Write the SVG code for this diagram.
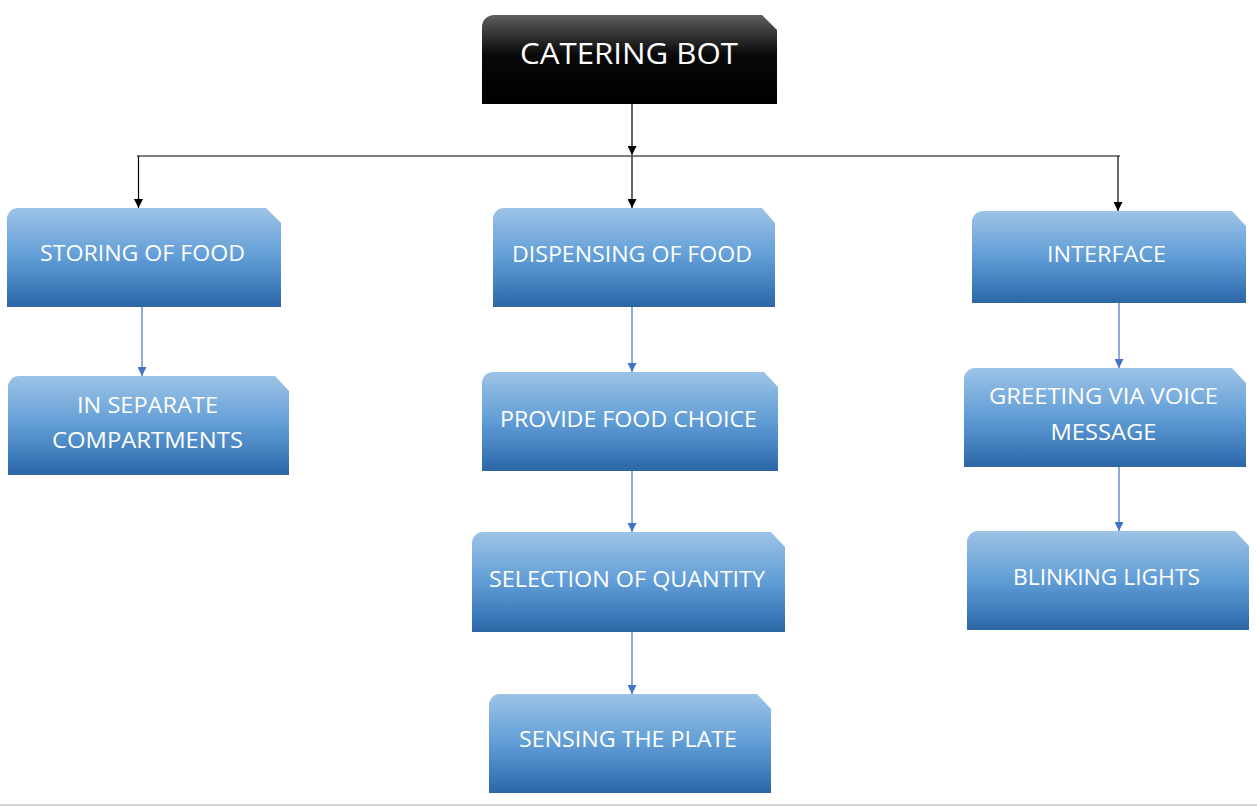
<svg xmlns="http://www.w3.org/2000/svg" width="1257" height="807" viewBox="0 0 1257 807">
<defs>
<linearGradient id="gBlue" x1="0" y1="0" x2="0" y2="1">
<stop offset="0" stop-color="#9dc3e6"/>
<stop offset="0.5" stop-color="#609dd6"/>
<stop offset="0.9" stop-color="#3572b3"/>
<stop offset="1" stop-color="#2c65a3"/>
</linearGradient>
<linearGradient id="gBlack" x1="0" y1="0" x2="0" y2="1">
<stop offset="0" stop-color="#5e5e5e"/>
<stop offset="0.45" stop-color="#080808"/>
<stop offset="1" stop-color="#000"/>
</linearGradient>
<marker id="aBlack" viewBox="0 0 10 10" refX="10" refY="5" markerWidth="9" markerHeight="9" markerUnits="userSpaceOnUse" orient="auto">
<path d="M0,0 L10,5 L0,10 Z" fill="#000"/>
</marker>
<marker id="aBlue" viewBox="0 0 10 10" refX="10" refY="5" markerWidth="9" markerHeight="9" markerUnits="userSpaceOnUse" orient="auto">
<path d="M0,0 L10,5 L0,10 Z" fill="#4472c4"/>
</marker>
</defs>
<style>
.box{fill:url(#gBlue);}
.top{fill:url(#gBlack);}
.t{font-family:"Open Sans","Liberation Sans",sans-serif;font-size:21.5px;fill:#fff;text-anchor:middle;}
.tt{font-family:"Open Sans","Liberation Sans",sans-serif;font-size:29px;fill:#fff;text-anchor:middle;}
.cb{stroke:#000;stroke-width:1.2;fill:none;}
.cu{stroke:#4472c4;stroke-width:1.2;fill:none;}
</style>
<rect width="1257" height="807" fill="#fff"/>
<line x1="0" y1="805" x2="1257" y2="805" stroke="#c8c8c8" stroke-width="1.5"/>

<g id="connectors">
<line class="cb" x1="632" y1="104" x2="632" y2="155" marker-end="url(#aBlack)"/>
<line class="cb" x1="137" y1="156" x2="1120" y2="156"/>
<line class="cb" x1="632" y1="156" x2="632" y2="208" marker-end="url(#aBlack)"/>
<line class="cb" x1="138.5" y1="156" x2="138.5" y2="208" marker-end="url(#aBlack)"/>
<line class="cb" x1="1118" y1="156" x2="1118" y2="211" marker-end="url(#aBlack)"/>
<line class="cu" x1="142" y1="307" x2="142" y2="376" marker-end="url(#aBlue)"/>
<line class="cu" x1="632" y1="307" x2="632" y2="372" marker-end="url(#aBlue)"/>
<line class="cu" x1="632" y1="471" x2="632" y2="532" marker-end="url(#aBlue)"/>
<line class="cu" x1="632" y1="632" x2="632" y2="694" marker-end="url(#aBlue)"/>
<line class="cu" x1="1119" y1="303" x2="1119" y2="368" marker-end="url(#aBlue)"/>
<line class="cu" x1="1119" y1="467" x2="1119" y2="531" marker-end="url(#aBlue)"/>
</g>

<g id="catering-bot">
<path class="top" d="M482,27 A12,12 0 0 1 494,15 H762 L777,30 V104 H482 Z"/>
<text class="tt" x="629" y="64" textLength="218" lengthAdjust="spacingAndGlyphs">CATERING BOT</text>
</g>

<g id="storing-of-food">
<path class="box" d="M7,219 A11,11 0 0 1 18,208 H266 L281,223 V307 H7 Z"/>
<text class="t" x="142.5" y="261" textLength="205" lengthAdjust="spacingAndGlyphs">STORING OF FOOD</text>
</g>

<g id="in-separate-compartments">
<path class="box" d="M8,387 A11,11 0 0 1 19,376 H275 L289,391 V475 H8 Z"/>
<text class="t" x="147.5" y="413" textLength="141" lengthAdjust="spacingAndGlyphs">IN SEPARATE</text>
<text class="t" x="147.5" y="448" textLength="191" lengthAdjust="spacingAndGlyphs">COMPARTMENTS</text>
</g>

<g id="dispensing-of-food">
<path class="box" d="M493,219 A11,11 0 0 1 504,208 H762 L775,223 V307 H493 Z"/>
<text class="t" x="632" y="262" textLength="240" lengthAdjust="spacingAndGlyphs">DISPENSING OF FOOD</text>
</g>

<g id="provide-food-choice">
<path class="box" d="M482,383 A11,11 0 0 1 493,372 H764 L778,387 V471 H482 Z"/>
<text class="t" x="628.5" y="427" textLength="257" lengthAdjust="spacingAndGlyphs">PROVIDE FOOD CHOICE</text>
</g>

<g id="selection-of-quantity">
<path class="box" d="M472,543 A11,11 0 0 1 483,532 H771 L785,547 V632 H472 Z"/>
<text class="t" x="627" y="587" textLength="276" lengthAdjust="spacingAndGlyphs">SELECTION OF QUANTITY</text>
</g>

<g id="sensing-the-plate">
<path class="box" d="M489,705 A11,11 0 0 1 500,694 H757 L771,709 V793 H489 Z"/>
<text class="t" x="628" y="747" textLength="218" lengthAdjust="spacingAndGlyphs">SENSING THE PLATE</text>
</g>

<g id="interface">
<path class="box" d="M972,222 A11,11 0 0 1 983,211 H1232 L1246,226 V303 H972 Z"/>
<text class="t" x="1106.5" y="262" textLength="119" lengthAdjust="spacingAndGlyphs">INTERFACE</text>
</g>

<g id="greeting-via-voice-message">
<path class="box" d="M964,379 A11,11 0 0 1 975,368 H1232 L1246,383 V467 H964 Z"/>
<text class="t" x="1103.5" y="404" textLength="229" lengthAdjust="spacingAndGlyphs">GREETING VIA VOICE</text>
<text class="t" x="1103.5" y="440" textLength="106" lengthAdjust="spacingAndGlyphs">MESSAGE</text>
</g>

<g id="blinking-lights">
<path class="box" d="M967,542 A11,11 0 0 1 978,531 H1235 L1249,546 V630 H967 Z"/>
<text class="t" x="1106.5" y="585" textLength="187" lengthAdjust="spacingAndGlyphs">BLINKING LIGHTS</text>
</g>
</svg>
